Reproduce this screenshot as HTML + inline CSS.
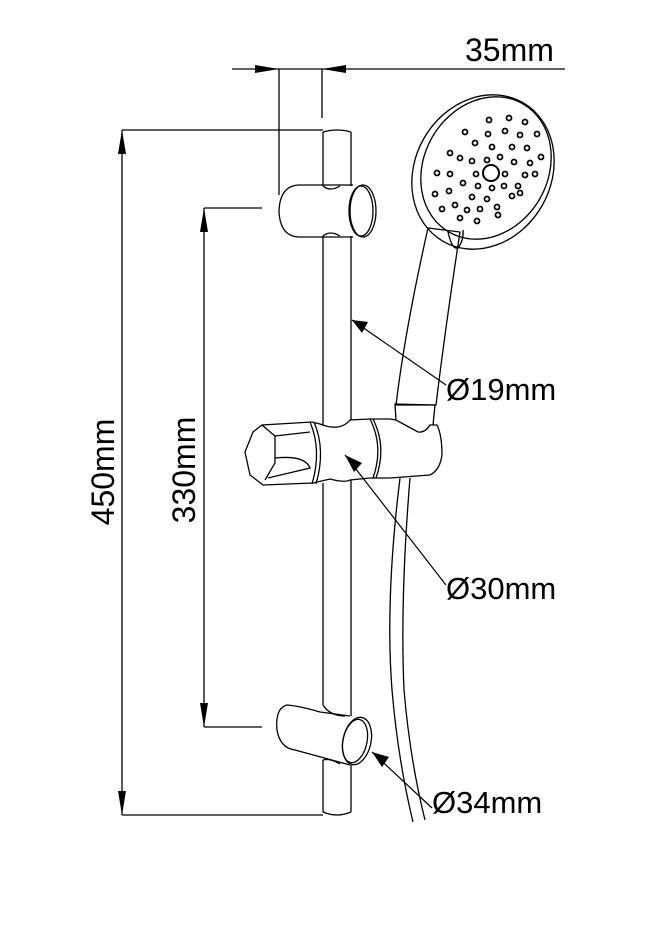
<!DOCTYPE html>
<html><head><meta charset="utf-8"><style>
html,body{margin:0;padding:0;background:#fff;width:671px;height:936px;overflow:hidden}
svg{display:block}
text{font-family:"Liberation Sans",Arial,sans-serif;fill:#000}
</style></head><body>
<svg width="671" height="936" viewBox="0 0 671 936" xmlns="http://www.w3.org/2000/svg">
<g fill="none" stroke="#000" stroke-width="1.3">
<line x1="232" y1="69" x2="565" y2="69"/>
<line x1="279" y1="69" x2="279" y2="195"/>
<line x1="322" y1="69" x2="322" y2="118"/>
<line x1="122" y1="130" x2="122" y2="815"/>
<line x1="122" y1="130" x2="323" y2="130"/>
<line x1="122" y1="815" x2="323" y2="815"/>
<line x1="204" y1="208" x2="204" y2="727"/>
<line x1="204" y1="208" x2="262" y2="208"/>
<line x1="204" y1="727" x2="262" y2="727"/>
<line x1="323" y1="132" x2="323" y2="186"/>
<line x1="351" y1="132" x2="351" y2="186"/>
<path d="M323 132 Q337 128 351 132"/>
<line x1="323" y1="236" x2="323" y2="425"/>
<line x1="351" y1="236" x2="351" y2="420"/>
<line x1="323" y1="483" x2="323" y2="705"/>
<line x1="351" y1="480" x2="351" y2="716"/>
<line x1="323" y1="760" x2="323" y2="812"/>
<line x1="351" y1="765" x2="351" y2="812"/>
<path d="M323 812 Q337 818 351 812"/>
<path d="M353 185 L300 185 Q280 185 279 211 Q280 237 300 237 L353 237"/>
<path d="M323 186 Q330 192 340 186"/>
<path d="M323 236 Q330 230 340 236"/>
<ellipse cx="363" cy="211" rx="13" ry="26"/>
<ellipse cx="361" cy="211" rx="12" ry="25"/>
<path d="M262 425 L253 432 L245 452 L250 475 L263 485 L313 483 L330 479 Q345 483 350 480 L370 478 L390 478 L430 475 Q440 470 442 455 Q442 435 437 425 L430 425 Q425 433 418 432 L396 420 L390 419 L370 419 L350 420 Q340 432 320 424 L312 422 Z"/>
<path d="M262 425 L275 436 L275 463 L265 480"/>
<path d="M275 436 L310 432"/>
<path d="M275 458 Q305 455 310 468 L268 478"/>
<path d="M310 422 Q322 450 312 484"/>
<path d="M314 422 Q326 450 316 484"/>
<path d="M370 419 Q384 447 373 478"/>
<path d="M373 419 Q387 447 376 478"/>
<path d="M396 420 L395 404 L435 405 L433 425"/>
<path d="M350 716 L320 712 Q300 706 287 705 Q275 708 277 730 Q280 748 295 750 L350 765"/>
<path d="M323 705 Q330 716 345 716"/>
<path d="M323 760 Q330 758 340 764"/>
<ellipse cx="357" cy="741" rx="14" ry="24" transform="rotate(12 357 741)"/>
<ellipse cx="355" cy="741" rx="12" ry="22" transform="rotate(12 355 741)"/>
<path d="M400 478 Q385 600 392 690 Q398 760 413 822"/>
<path d="M410 478 Q400 600 404 690 Q410 760 425 820"/>
<path d="M396 405 Q405 330 428 228 L460 232 Q445 330 436 405 Z"/>
<ellipse cx="483" cy="172" rx="68" ry="80" transform="rotate(30 483 172)"/>
<ellipse cx="486" cy="168" rx="62" ry="74" transform="rotate(30 486 168)"/>
<path d="M448 232 Q452 250 458 248 Q464 240 463 230"/>
<circle cx="491" cy="173" r="8" stroke-width="2"/>
</g>
<g fill="none" stroke="#000" stroke-width="1.8">
<circle cx="489" cy="120" r="2.5"/><circle cx="509" cy="118" r="2.5"/><circle cx="525" cy="122" r="2.5"/>
<circle cx="465" cy="132" r="2.5"/><circle cx="488" cy="134" r="2.5"/><circle cx="505" cy="131" r="2.5"/><circle cx="520" cy="135" r="2.5"/><circle cx="537" cy="134" r="2.5"/>
<circle cx="475" cy="143" r="2.5"/><circle cx="492" cy="147" r="2.5"/><circle cx="512" cy="147" r="2.5"/><circle cx="527" cy="148" r="2.5"/>
<circle cx="450" cy="153" r="2.5"/><circle cx="460" cy="158" r="2.5"/><circle cx="472" cy="161" r="2.5"/><circle cx="487" cy="160" r="2.5"/><circle cx="500" cy="157" r="2.5"/><circle cx="514" cy="162" r="2.5"/><circle cx="530" cy="163" r="2.5"/><circle cx="541" cy="157" r="2.5"/>
<circle cx="437" cy="173" r="2.5"/><circle cx="450" cy="174" r="2.5"/><circle cx="476" cy="174" r="2.5"/><circle cx="505" cy="174" r="2.5"/><circle cx="525" cy="175" r="2.5"/><circle cx="535" cy="174" r="2.5"/>
<circle cx="463" cy="183" r="2.5"/><circle cx="478" cy="186" r="2.5"/><circle cx="492" cy="188" r="2.5"/><circle cx="504" cy="186" r="2.5"/><circle cx="518" cy="186" r="2.5"/>
<circle cx="435" cy="194" r="2.5"/><circle cx="449" cy="191" r="2.5"/><circle cx="472" cy="197" r="2.5"/><circle cx="487" cy="199" r="2.5"/><circle cx="512" cy="196" r="2.5"/><circle cx="520" cy="193" r="2.5"/>
<circle cx="442" cy="209" r="2.5"/><circle cx="455" cy="205" r="2.5"/><circle cx="467" cy="210" r="2.5"/><circle cx="480" cy="209" r="2.5"/><circle cx="497" cy="207" r="2.5"/><circle cx="498" cy="215" r="2.5"/>
<circle cx="460" cy="218" r="2.5"/><circle cx="477" cy="221" r="2.5"/>
</g>
<g stroke="#000" stroke-width="1.2">
<line x1="352" y1="320" x2="446" y2="385"/>
<line x1="345" y1="455" x2="446" y2="585"/>
<line x1="372" y1="752" x2="432" y2="808"/>
</g>
<g fill="#000">
<polygon points="255,65 279,69 255,73"/>
<polygon points="346,65 322,69 346,73"/>
<polygon points="118,154 122,130 126,154"/>
<polygon points="118,791 122,815 126,791"/>
<polygon points="200,232 204,208 208,232"/>
<polygon points="200,703 204,727 208,703"/>
<polygon points="352,320 368,322 362,333"/>
<polygon points="345,455 362,463 354,472"/>
<polygon points="372,752 389,757 382,767"/>
</g>
<text x="465" y="61" font-size="32">35mm</text>
<text x="446" y="400" font-size="31">Ø19mm</text>
<text x="446" y="599" font-size="31">Ø30mm</text>
<text x="432" y="813" font-size="31">Ø34mm</text>
<text transform="translate(114,472) rotate(-90)" font-size="32" text-anchor="middle">450mm</text>
<text transform="translate(195,470) rotate(-90)" font-size="32" text-anchor="middle">330mm</text>
</svg>
</body></html>
